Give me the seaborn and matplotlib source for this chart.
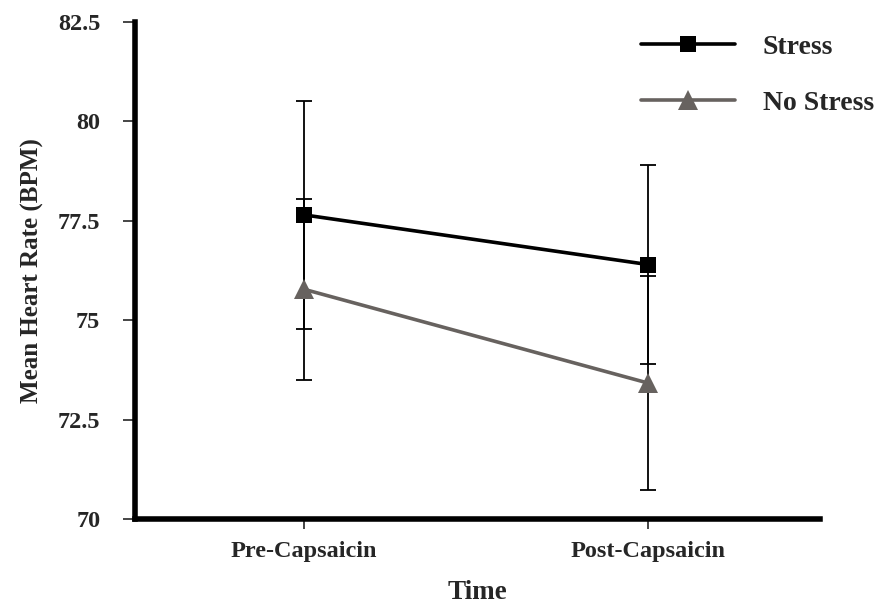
import matplotlib
matplotlib.use("Agg")
import matplotlib.pyplot as plt
import seaborn as sns
import pandas as pd

# values
time_points = ["Pre-Capsaicin", "Post-Capsaicin"]
stress_mean = [77.65, 76.40]
stress_err = [2.87, 2.50]
nostress_mean = [75.78, 73.42]
nostress_err = [2.28, 2.69]
groups = ["Stress", "No Stress"]
y_ticks = [70, 72.5, 75, 77.5, 80, 82.5]
y_tick_labels = ["70", "72.5", "75", "77.5", "80", "82.5"]

sns.set_style("white")
plt.rcParams["font.family"] = ["Liberation Serif", "DejaVu Serif"]
plt.rcParams["font.weight"] = "bold"

df = pd.DataFrame({
    "Time": time_points * 2,
    "HR": stress_mean + nostress_mean,
    "Group": [groups[0]] * 2 + [groups[1]] * 2,
})

fig = plt.figure(figsize=(8.79, 6.04), dpi=100)
ax = fig.add_axes([0.1536, 0.1407, 0.7794, 0.8229])

pal = {"Stress": "black", "No Stress": "#67625f"}
# error bars first so markers sit on top
ax.errorbar(time_points, stress_mean, yerr=stress_err, fmt="none", ecolor="black",
            elinewidth=1.3, capsize=6, capthick=1.3, zorder=1)
ax.errorbar(time_points, nostress_mean, yerr=nostress_err, fmt="none", ecolor="black",
            elinewidth=1.3, capsize=6, capthick=1.3, zorder=1)

sns.lineplot(data=df, x="Time", y="HR", hue="Group", style="Group",
             palette=pal, markers={"Stress": "s", "No Stress": "^"}, dashes=False,
             linewidth=2.6, markersize=12, markeredgewidth=0, ax=ax, zorder=3)
for ln in ax.lines:
    if ln.get_marker() == "^":
        ln.set_markersize(15)

ax.set_xlim(-0.49, 1.5)
ax.set_ylim(70, 82.5)
ax.set_yticks(y_ticks)
ax.set_yticklabels(y_tick_labels)

for s in ["top", "right"]:
    ax.spines[s].set_visible(False)
for s in ["left", "bottom"]:
    ax.spines[s].set_linewidth(4)
    ax.spines[s].set_color("black")

ax.tick_params(axis="y", direction="out", length=9, width=1.2, labelsize=17.5, pad=16, left=True)
ax.tick_params(axis="x", direction="out", length=7, width=1.2, labelsize=17.5, pad=9, bottom=True)
for lab in ax.get_xticklabels() + ax.get_yticklabels():
    lab.set_fontweight("bold")

ax.set_xlabel("Time", fontsize=19.5, fontweight="bold", labelpad=13)
ax.set_ylabel("Mean Heart Rate (BPM)", fontsize=18, fontweight="bold", labelpad=10)

leg = ax.legend(loc="upper right", bbox_to_anchor=(1.115, 1.025), frameon=False,
                fontsize=20, handlelength=3.4, handletextpad=1.0, labelspacing=1.1,
                title=None)
for t in leg.get_texts():
    t.set_fontweight("bold")
for h in leg.legend_handles:
    if h.get_marker() == "^":
        h.set_markersize(14)

fig.savefig("out.png", dpi=100)
